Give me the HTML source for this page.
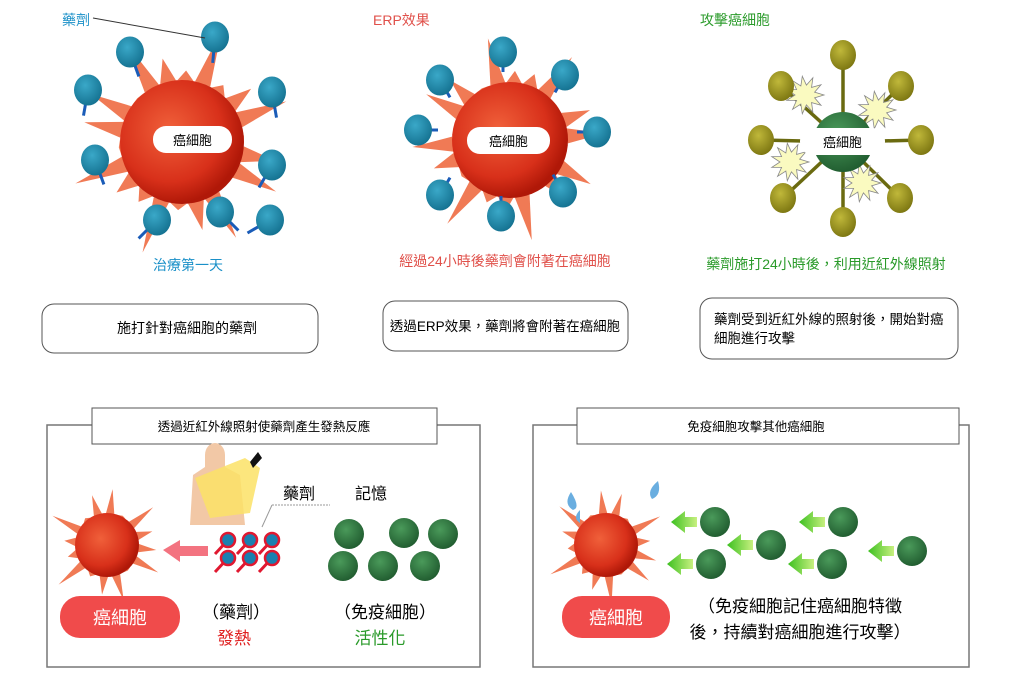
<!DOCTYPE html>
<html><head><meta charset="utf-8">
<style>
body{margin:0;background:#fff;width:1015px;height:683px;overflow:hidden;font-family:"Liberation Sans","Noto Sans CJK TC",sans-serif}
svg{position:absolute;left:0;top:0}
text{font-family:"Liberation Sans","Noto Sans CJK TC",sans-serif}
</style></head><body>
<svg id="s" width="1015" height="683" viewBox="0 0 1015 683">
<defs>
<radialGradient id="rc" cx="0.4" cy="0.4" r="0.6"><stop offset="0" stop-color="#f0603a"/><stop offset="0.7" stop-color="#d8301a"/><stop offset="1" stop-color="#b01808"/></radialGradient>
<radialGradient id="bl" cx="0.4" cy="0.35" r="0.7"><stop offset="0" stop-color="#3aa8c8"/><stop offset="1" stop-color="#13708f"/></radialGradient>
<radialGradient id="gr" cx="0.4" cy="0.35" r="0.7"><stop offset="0" stop-color="#4a9a5a"/><stop offset="1" stop-color="#1f5a2e"/></radialGradient>
<radialGradient id="ol" cx="0.4" cy="0.35" r="0.7"><stop offset="0" stop-color="#c0b83a"/><stop offset="1" stop-color="#7a7410"/></radialGradient>
<linearGradient id="ar" x1="1" x2="0"><stop offset="0" stop-color="#c8f080"/><stop offset="1" stop-color="#3cc020"/></linearGradient>
</defs>
<g id="shapes"></g>
<text x="62" y="25" font-size="14" fill="#1a90c8">藥劑</text>
<line x1="93" y1="18" x2="205" y2="38" stroke="#333" stroke-width="1"/>
<text x="373" y="25" font-size="14" fill="#e0504a">ERP效果</text>
<text x="700" y="25" font-size="14" fill="#2a9a2a">攻擊癌細胞</text>
<g id="pills"></g>
<text x="188" y="270" font-size="14" fill="#1a90c8" text-anchor="middle">治療第一天</text>
<text x="505" y="266" font-size="14" fill="#e0504a" text-anchor="middle">經過24小時後藥劑會附著在癌細胞</text>
<text x="826" y="269" font-size="14" fill="#2a9a2a" text-anchor="middle">藥劑施打24小時後，利用近紅外線照射</text>
<rect x="42" y="304" width="276" height="49" rx="12" fill="#fff" stroke="#555"/>
<text x="187" y="333" font-size="14" text-anchor="middle">施打針對癌細胞的藥劑</text>
<rect x="383" y="301" width="245" height="50" rx="12" fill="#fff" stroke="#555"/>
<text x="505" y="331" font-size="13.5" text-anchor="middle">透過ERP效果，藥劑將會附著在癌細胞</text>
<rect x="700" y="298" width="258" height="61" rx="12" fill="#fff" stroke="#555"/>
<text x="714" y="324" font-size="13.5">藥劑受到近紅外線的照射後，開始對癌</text>
<text x="714" y="343" font-size="13.5">細胞進行攻擊</text>
<rect x="47" y="425" width="433" height="242" fill="#fff" stroke="#777" stroke-width="1.5"/>
<rect x="92" y="408" width="345" height="36" fill="#fff" stroke="#555"/>
<text x="264" y="431" font-size="12.5" text-anchor="middle">透過近紅外線照射使藥劑產生發熱反應</text>
<rect x="533" y="425" width="436" height="242" fill="#fff" stroke="#777" stroke-width="1.5"/>
<rect x="577" y="408" width="382" height="36" fill="#fff" stroke="#555"/>
<text x="756" y="431" font-size="12.5" text-anchor="middle">免疫細胞攻擊其他癌細胞</text>
<g id="shapes2"></g>
<text x="283" y="499" font-size="16">藥劑</text>
<text x="355" y="499" font-size="16">記憶</text>
<line x1="272" y1="505" x2="330" y2="505" stroke="#999" stroke-dasharray="2 1"/>
<line x1="272" y1="505" x2="262" y2="527" stroke="#999"/>
<rect x="60" y="596" width="120" height="42" rx="20" fill="#f04b4b"/>
<text x="120" y="624" font-size="18" fill="#fff" text-anchor="middle">癌細胞</text>
<text x="236" y="618" font-size="17" text-anchor="middle">（藥劑）</text>
<text x="234" y="644" font-size="17" fill="#e02020" text-anchor="middle">發熱</text>
<text x="385" y="618" font-size="17" text-anchor="middle">（免疫細胞）</text>
<text x="380" y="644" font-size="17" fill="#2a9a2a" text-anchor="middle">活性化</text>
<rect x="562" y="596" width="108" height="42" rx="20" fill="#f04b4b"/>
<text x="616" y="624" font-size="18" fill="#fff" text-anchor="middle">癌細胞</text>
<text x="800" y="612" font-size="17" text-anchor="middle">（免疫細胞記住癌細胞特徵</text>
<text x="800" y="638" font-size="17" text-anchor="middle">後，持續對癌細胞進行攻擊）</text>
</svg>
<script>
var NS="http://www.w3.org/2000/svg";
function el(p,t,a){var e=document.createElementNS(NS,t);for(var k in a)e.setAttribute(k,a[k]);p.appendChild(e);return e;}
var g=document.getElementById("shapes"),g2=document.getElementById("shapes2"),gp=document.getElementById("pills");
function cancer(p,cx,cy,r,R,n,seed){
 for(var i=0;i<n;i++){var a=i/n*2*Math.PI+seed,L=R*(0.8+0.25*Math.sin(i*2.3+seed)),w=0.13;
  var pts=[[cx+r*Math.cos(a-w),cy+r*Math.sin(a-w)],[cx+L*Math.cos(a),cy+L*Math.sin(a)],[cx+r*Math.cos(a+w),cy+r*Math.sin(a+w)]];
  el(p,"polygon",{points:pts.map(function(q){return q.join(",")}).join(" "),fill:"#f07a55"});}
 el(p,"circle",{cx:cx,cy:cy,r:r,fill:"url(#rc)"});
}
function lolli(p,x,y,ang,len,rr){var a=ang*Math.PI/180;
 el(p,"line",{x1:x,y1:y,x2:x+len*Math.cos(a),y2:y+len*Math.sin(a),stroke:"#1a5cb8","stroke-width":3});
 el(p,"ellipse",{cx:x,cy:y,rx:rr,ry:rr+1.5,fill:"url(#bl)"});}
cancer(g,182,142,62,112,22,0.2);
[[130,52,70],[215,37,95],[88,90,100],[272,92,80],[95,160,70],[272,165,120],[157,220,135],[220,212,45],[270,220,150]].forEach(function(b){lolli(g,b[0],b[1],b[2],26,14);});
cancer(g,510,140,58,100,22,0.5);
[[503,52,90],[440,80,60],[565,75,120],[418,130,0],[597,132,180],[440,195,-60],[563,192,-120],[501,216,-90]].forEach(function(b){lolli(g,b[0],b[1],b[2],20,14);});
(function(){var cx=843,cy=142;
 var ends=[[843,55],[901,86],[921,140],[900,198],[843,222],[783,198],[761,140],[781,86]];
 ends.forEach(function(e){el(g,"line",{x1:cx,y1:cy,x2:e[0],y2:e[1],stroke:"#6a6a10","stroke-width":3.5});});
 [[805,95],[877,110],[790,162],[862,183]].forEach(function(s){var pts=[];for(var i=0;i<22;i++){var a=i/22*2*Math.PI,r=i%2?10:19;pts.push((s[0]+r*Math.cos(a))+","+(s[1]+r*Math.sin(a)));}
  el(g,"polygon",{points:pts.join(" "),fill:"#fafac0",stroke:"#888","stroke-width":0.8});});
 el(g,"circle",{cx:cx,cy:cy,r:30,fill:"url(#gr)"});
 ends.forEach(function(e){el(g,"ellipse",{cx:e[0],cy:e[1],rx:13,ry:15,fill:"url(#ol)"});});
})();
[[153,126,79],[467,127,83],[800,128,85]].forEach(function(p){el(gp,"rect",{x:p[0],y:p[1],width:p[2],height:27,rx:13,fill:"#fff"});
 var t=el(gp,"text",{x:p[0]+p[2]/2,y:p[1]+19,"font-size":13,"text-anchor":"middle"});t.textContent="癌細胞";});
cancer(g2,107,545,32,60,16,0.1);
el(g2,"polygon",{points:"163,550 180,540 180,546 208,546 208,556 180,556 180,562",fill:"#f05060",opacity:0.8});
el(g2,"path",{d:"M205,455 a10,12 0 1 1 20,0 v12 l15,8 l5,50 h-55 l3,-50 l12,-8z",fill:"#f2c8a6"});
el(g2,"path",{d:"M195,478 l50,-20 l15,10 l-10,45 l-40,5z",fill:"#fbe266",opacity:0.85});
el(g2,"polygon",{points:"250,462 258,452 262,458 253,468",fill:"#111"});
[[228,540],[250,540],[272,540],[228,558],[250,558],[272,558]].forEach(function(b){
 el(g2,"line",{x1:b[0],y1:b[1],x2:b[0]-13,y2:b[1]+14,stroke:"#e01830","stroke-width":3});
 el(g2,"circle",{cx:b[0],cy:b[1],r:7,fill:"#1a80b0",stroke:"#e01830","stroke-width":2.5});});
[[349,534],[404,533],[443,534],[343,566],[383,566],[425,566]].forEach(function(b){el(g2,"circle",{cx:b[0],cy:b[1],r:15,fill:"url(#gr)"});});
cancer(g2,606,545,32,60,16,0.3);
el(g2,"path",{d:"M571,492 q-8,12 2,18 q8,-2 -2,-18z",fill:"#6aaee0"});
el(g2,"path",{d:"M658,481 q-12,10 -6,18 q10,-4 6,-18z",fill:"#6aaee0"});
el(g2,"path",{d:"M580,510 q-8,8 0,13 z",fill:"#6aaee0"});
[[715,522],[843,522],[771,545],[912,551],[711,564],[832,564]].forEach(function(b){
 var x=b[0]-18,y=b[1];
 el(g2,"polygon",{points:(x-26)+","+y+" "+(x-12)+","+(y-11)+" "+(x-12)+","+(y-5)+" "+x+","+(y-5)+" "+x+","+(y+5)+" "+(x-12)+","+(y+5)+" "+(x-12)+","+(y+11),fill:"url(#ar)"});
 el(g2,"circle",{cx:b[0],cy:b[1],r:15,fill:"url(#gr)"});});
</script>
</body></html>
